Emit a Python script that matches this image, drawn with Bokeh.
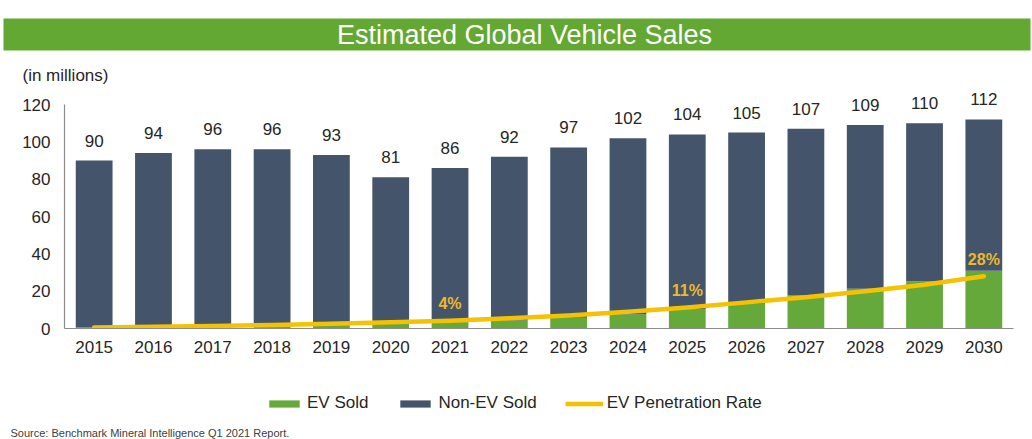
from bokeh.plotting import figure
from bokeh.models import ColumnDataSource, Legend, LegendItem, Range1d, FactorRange
from bokeh.layouts import column
from bokeh.embed import file_html
from bokeh.resources import INLINE
from bokeh.core.properties import value

# ---------------- data ----------------
years = ["2015", "2016", "2017", "2018", "2019", "2020", "2021", "2022",
         "2023", "2024", "2025", "2026", "2027", "2028", "2029", "2030"]
total_sales = [90, 94, 96, 96, 93, 81, 86, 92, 97, 102, 104, 105, 107, 109, 110, 112]
ev_sold = [0.5, 0.8, 1.2, 2.0, 2.2, 2.8, 3.4, 4.3, 5.7, 7.5, 10.5, 13.2, 17.7, 21.3, 25.3, 31.0]
ev_penetration = [0.6, 0.9, 1.3, 1.9, 2.5, 3.4, 4.2, 5.5, 7.0, 9.0, 11.2, 14.0, 16.8, 20.0, 23.4, 28.0]
pct_label_years = ["2021", "2025", "2030"]
pct_label_text = ["4%", "11%", "28%"]
y_ticks = [0, 20, 40, 60, 80, 100, 120]
legend_labels = ["EV Sold", "Non-EV Sold", "EV Penetration Rate"]

title_text = "Estimated Global Vehicle Sales"
unit_text = "(in millions)"
source_text = "Source: Benchmark Mineral Intelligence Q1 2021 Report."

# ---------------- styles ----------------
FONT = "Liberation Sans"
GREEN = "#64A93A"
NAVY = "#44546A"
YELLOW = "#F5C200"
TITLE_GREEN = "#62A832"
TXT = "#262626"
W = 1032


def blank_fig(h):
    f = figure(width=W, height=h, x_range=Range1d(0, W), y_range=Range1d(0, h),
               output_backend="svg", toolbar_location=None,
               x_axis_location=None, y_axis_location=None,
               min_border_left=0, min_border_right=0, min_border_top=0, min_border_bottom=0)
    f.frame_align = False
    f.outline_line_color = None
    f.background_fill_color = "white"
    f.border_fill_color = "white"
    f.xgrid.visible = False
    f.ygrid.visible = False
    return f


non_ev = [t - e for t, e in zip(total_sales, ev_sold)]
src = ColumnDataSource(dict(year=years, ev=ev_sold, nonev=non_ev, total=total_sales,
                            total_lbl=[str(t) for t in total_sales], pen=ev_penetration))
pct_y = [ev_penetration[years.index(y)] for y in pct_label_years]
pct_src = ColumnDataSource(dict(year=pct_label_years, y=pct_y, text=pct_label_text))

# ---------------- header: title band + unit label ----------------
HA = 88
top = blank_fig(HA)
top.quad(left=3, right=1030, top=HA - 18, bottom=HA - 50, fill_color=TITLE_GREEN, line_color=None)
top.text(x=[524], y=[HA - 34], text=[title_text], text_align="center",
         text_baseline="middle", text_color="white", text_font=value(FONT),
         text_font_size="27px")
top.text(x=[22], y=[HA - 75], text=[unit_text], text_align="left",
         text_baseline="middle", text_color=TXT, text_font=value(FONT),
         text_font_size="17px")

# ---------------- main chart ----------------
HB = 282
p = figure(width=W, height=HB, x_range=FactorRange(*years), y_range=Range1d(0, 128.6),
           output_backend="svg", toolbar_location=None,
           min_border_left=64, min_border_right=19, min_border_top=0, min_border_bottom=42)
p.frame_align = False
p.outline_line_color = None
p.background_fill_color = "white"
p.border_fill_color = "white"
p.xgrid.visible = False
p.ygrid.visible = False

bars = p.vbar_stack(["ev", "nonev"], x="year", width=0.62, source=src,
                    color=[GREEN, NAVY], line_color=None)
line = p.line(x="year", y="pen", source=src, line_color=YELLOW, line_width=4.5,
              line_join="round", line_cap="round")

p.text(x="year", y="total", text="total_lbl", source=src, y_offset=-20,
       text_align="center", text_baseline="middle", text_color=TXT,
       text_font=value(FONT), text_font_size="17px")
p.text(x="year", y="y", text="text", source=pct_src, y_offset=-17,
       text_align="center", text_baseline="middle", text_color="#EDB92A",
       text_font=value(FONT), text_font_size="16px", text_font_style="bold")

for ax in (p.xaxis[0], p.yaxis[0]):
    ax.major_tick_out = 0
    ax.major_tick_in = 0
    ax.minor_tick_out = 0
    ax.minor_tick_in = 0
    ax.axis_line_color = "#8C8C8C"
    ax.axis_line_width = 1.2
    ax.major_label_text_font = FONT
    ax.major_label_text_font_size = "17px"
    ax.major_label_text_color = TXT
p.yaxis.ticker = y_ticks
p.yaxis.bounds = (0, 120)
p.yaxis.major_label_standoff = 14
p.xaxis.major_label_standoff = 12

# ---------------- footer: legend + source ----------------
HC = 69
bot = blank_fig(HC)
# off-canvas stand-in renderers: they only provide the legend swatches
swatch = ColumnDataSource(dict(x=[-1000, -999], y=[-1000, -1000]))
r_ev = bot.vbar(x="x", top="y", width=0.5, source=swatch, color=GREEN, line_color=None)
r_non = bot.vbar(x="x", top="y", width=0.5, source=swatch, color=NAVY, line_color=None)
r_pen = bot.line(x="x", y="y", source=swatch, line_color=YELLOW, line_width=4.5)
legend = Legend(items=[LegendItem(label=legend_labels[0], renderers=[r_ev]),
                       LegendItem(label=legend_labels[1], renderers=[r_non]),
                       LegendItem(label=legend_labels[2], renderers=[r_pen])],
                location=(265, 26), orientation="horizontal",
                glyph_width=38, glyph_height=9, label_standoff=4, spacing=28,
                padding=0, margin=0, border_line_color=None, background_fill_alpha=0,
                label_text_font=FONT, label_text_font_size="17px", label_text_color=TXT,
                label_height=20)
bot.add_layout(legend, "center")
bot.text(x=[10], y=[HC - 62], text=[source_text], text_align="left",
         text_baseline="middle", text_color="#404040", text_font=value(FONT),
         text_font_size="11px")

layout = column(top, p, bot, spacing=0)
open("out.html", "w").write(file_html(layout, INLINE))
